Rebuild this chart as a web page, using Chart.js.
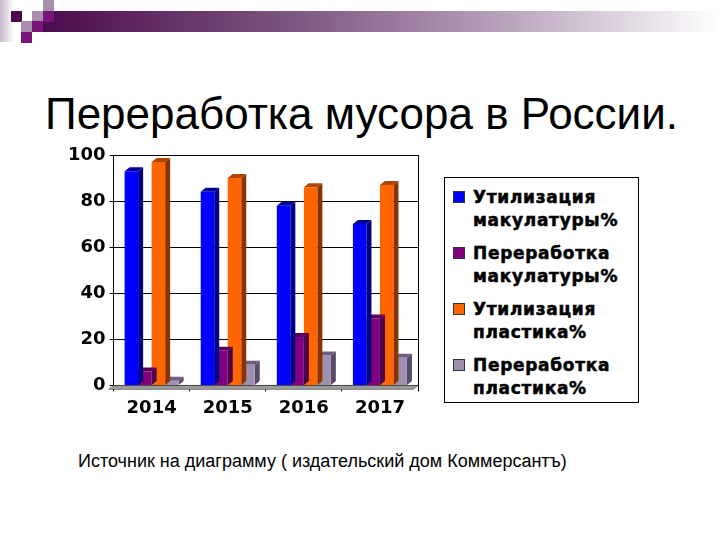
<!DOCTYPE html>
<html>
<head>
<meta charset="utf-8">
<script src="https://cdn.jsdelivr.net/npm/chart.js@4.4.1/dist/chart.umd.min.js"></script>
<style>
    body { margin: 0; width: 720px; height: 540px; background: #fff; position: relative; overflow: hidden; font-family: 'Liberation Sans', Arial, sans-serif; }
    .sq { position: absolute; width: 11px; height: 11px; }
    #band { position: absolute; left: 43px; top: 11px; width: 677px; height: 21px; background: linear-gradient(to right, #4c0a4e 0%, #7e5882 38%, #b8a2bc 68%, #fff 100%); }
    #edge { position: absolute; left: 0; top: 0; width: 14px; height: 42px; background: linear-gradient(to right, #c8b8cc, #fff); }
    #title { position: absolute; left: 45px; top: 89px; font-size: 44px; line-height: 50px; color: #000; white-space: nowrap; }
    #source { position: absolute; left: 78px; top: 451px; font-size: 18px; color: #000; white-space: nowrap; }
    #wrap { position: absolute; left: 60px; top: 140px; width: 370px; height: 285px; }
    #legend { position: absolute; left: 444px; top: 177px; width: 195px; height: 226px; border: 1px solid #000; box-sizing: border-box; padding: 8px 0 0 8px; }
    .item { display: flex; align-items: flex-start; margin-bottom: 10px; }
    .box { width: 10px; height: 10px; border: 1px solid #333; margin: 5px 8px 0 0; flex: none; }
    .txt { font-family: 'DejaVu Sans', sans-serif; font-weight: bold; font-size: 17px; line-height: 23px; letter-spacing: 0.7px; width: 172px; -webkit-text-stroke: 0.5px #000; }
</style>
</head>
<body>
<div id="edge"></div>
<div id="band"></div>
<div class="sq" style="left:11px;top:11px;background:#4c0a4e"></div>
<div class="sq" style="left:32px;top:11px;background:#a890ac"></div>
<div class="sq" style="left:43px;top:0;background:#a890ac"></div>
<div class="sq" style="left:43px;top:11px;background:#7a1478"></div>
<div class="sq" style="left:21px;top:21px;background:#a890ac"></div>
<div class="sq" style="left:32px;top:21px;background:#7a1478"></div>
<div class="sq" style="left:21px;top:32px;background:#7a1478"></div>
<div id="title">Переработка мусора в России.</div>
<div id="wrap"><canvas id="chart"></canvas></div>
<div id="legend"></div>
<div id="source">Источник на диаграмму ( издательский дом Коммерсантъ)</div>
<script>
    const years = ['2014', '2015', '2016', '2017']
    const seriesNames = ['Утилизация макулатуры%', 'Переработка макулатуры%', 'Утилизация пластика%', 'Переработка пластика%']
    const paperUtil = [93, 84, 78, 70]
    const paperRecycle = [6, 15, 21, 29]
    const plasticUtil = [97, 90, 86, 87]
    const plasticRecycle = [2, 9, 13, 12]
    const yTicks = [0, 20, 40, 60, 80, 100]

    const fronts = ['#0000ff', '#800080', '#ff6600', '#a090b0']
    const sides = ['#000080', '#4a004a', '#8a3300', '#5a4a6a']
    const tops = ['#00009a', '#5c005c', '#b04400', '#6e5e80']
    const DX = 5, DY = 4

    // fake 3d: side and top faces behind each bar
    const depth = {
        id: 'depth',
        beforeDatasetsDraw(chart) {
            const { ctx, chartArea: a } = chart
            ctx.save()
            ctx.fillStyle = '#9a9a9a'
            ctx.strokeStyle = '#444'
            ctx.lineWidth = 0.5
            ctx.beginPath()
            ctx.moveTo(a.left - DX, a.bottom + DY)
            ctx.lineTo(a.right - DX, a.bottom + DY)
            ctx.lineTo(a.right, a.bottom)
            ctx.lineTo(a.left, a.bottom)
            ctx.closePath()
            ctx.fill()
            ctx.stroke()
            ctx.strokeStyle = '#000'
            ctx.lineWidth = 1
            ctx.beginPath()
            ctx.moveTo(a.right + 0.5, a.top)
            ctx.lineTo(a.right + 0.5, a.bottom)
            ctx.stroke()
            ctx.restore()
        },
        beforeDatasetDraw(chart, args) {
            const { ctx } = chart
            const i = args.index
            ctx.save()
            chart.getDatasetMeta(i).data.forEach((bar) => {
                const l = bar.x - bar.width / 2
                const r = bar.x + bar.width / 2
                const t = bar.y
                const b = bar.base
                ctx.fillStyle = sides[i]
                ctx.beginPath()
                ctx.moveTo(r, b)
                ctx.lineTo(r + DX, b - DY)
                ctx.lineTo(r + DX, t - DY)
                ctx.lineTo(r, t)
                ctx.closePath()
                ctx.fill()
                ctx.fillStyle = tops[i]
                ctx.beginPath()
                ctx.moveTo(l, t)
                ctx.lineTo(l + DX, t - DY)
                ctx.lineTo(r + DX, t - DY)
                ctx.lineTo(r, t)
                ctx.closePath()
                ctx.fill()
            })
            ctx.restore()
        },
    }

    const values = [paperUtil, paperRecycle, plasticUtil, plasticRecycle]

    new Chart(document.getElementById('chart'), {
        type: 'bar',
        data: {
            labels: years,
            datasets: values.map((v, i) => ({
                label: seriesNames[i],
                data: v,
                backgroundColor: fronts[i],
                borderWidth: 0,
                categoryPercentage: 0.71,
                barPercentage: 1,
            })),
        },
        options: {
            responsive: true,
            maintainAspectRatio: false,
            animation: false,
            layout: { padding: { left: 4, right: 12, top: 15, bottom: 0 } },
            plugins: { legend: { display: false }, tooltip: { enabled: false } },
            scales: {
                x: {
                    grid: { offset: true, drawOnChartArea: false, color: '#000', tickLength: 6 },
                    border: { color: '#000' },
                    ticks: { color: '#000', font: { family: 'DejaVu Sans', weight: 'bold', size: 18 }, padding: 6 },
                },
                y: {
                    min: 0,
                    max: 100,
                    afterBuildTicks: (axis) => { axis.ticks = yTicks.map((v) => ({ value: v })) },
                    grid: { color: '#000', tickLength: 4 },
                    border: { color: '#000' },
                    ticks: { color: '#000', font: { family: 'DejaVu Sans', weight: 'bold', size: 18 }, padding: 4 },
                },
            },
        },
        plugins: [depth],
    })

    const legend = document.getElementById('legend')
    seriesNames.forEach((name, i) => {
        legend.insertAdjacentHTML('beforeend',
            `<div class="item"><div class="box" style="background:${fronts[i]}"></div><div class="txt">${name}</div></div>`)
    })
</script>
</body>
</html>
